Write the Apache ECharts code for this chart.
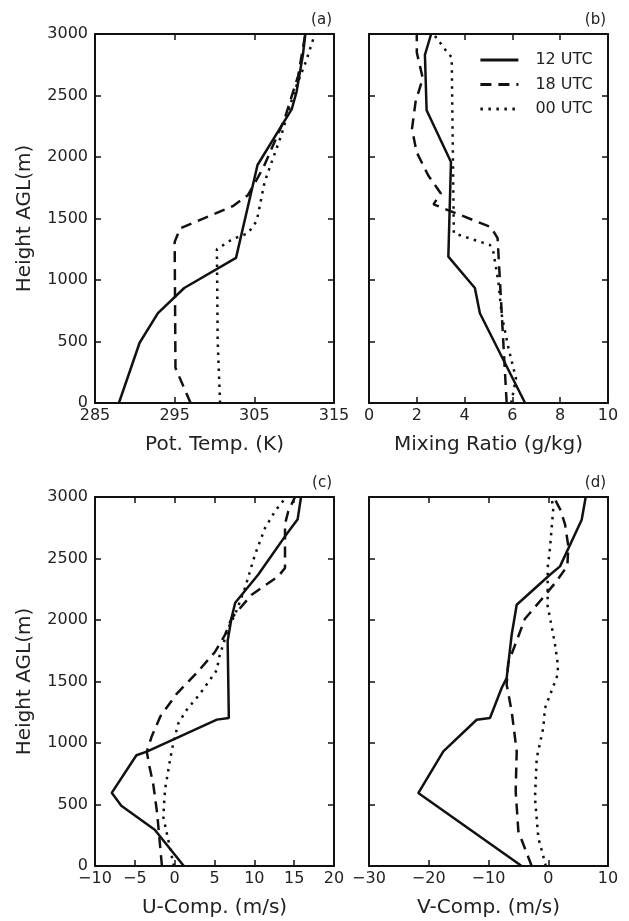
<!DOCTYPE html>
<html>
<head>
<meta charset="utf-8">
<script src="https://cdn.jsdelivr.net/npm/echarts@6/dist/echarts.min.js"></script>
<style>
  html, body { margin: 0; padding: 0; background: #fff; }
  #chart { width: 629px; height: 921px; }
</style>
</head>
<body>
<div id="chart"></div>
<script>
// series names
const times = ['12 UTC', '18 UTC', '00 UTC'];

// tick values
const heightTicks = [0, 500, 1000, 1500, 2000, 2500, 3000];
const tempTicks = [285, 295, 305, 315];
const mixTicks = [0, 2, 4, 6, 8, 10];
const uTicks = [-10, -5, 0, 5, 10, 15, 20];
const vTicks = [-30, -20, -10, 0, 10];

// (a) potential temperature (K)
const thetaH12 = [0, 490, 730, 935, 1180, 1935, 2390, 2530, 2830, 3000];
const theta12 = [288.0, 290.6, 292.9, 296.2, 302.7, 305.4, 309.7, 310.3, 311.1, 311.4];
const thetaH18 = [0, 285, 1310, 1420, 1600, 1690, 1910, 2310, 2660, 3000];
const theta18 = [297.0, 295.1, 295.0, 295.7, 302.3, 304.2, 306.1, 308.8, 310.5, 311.4];
const thetaH00 = [0, 500, 1250, 1330, 1380, 1480, 1800, 2180, 2530, 2780, 3000];
const theta00 = [300.7, 300.4, 300.3, 302.2, 304.2, 305.3, 306.3, 308.4, 310.0, 311.5, 312.6];

// (b) mixing ratio (g/kg)
const mixH12 = [0, 730, 935, 1190, 1960, 2380, 2830, 3000];
const mix12 = [6.53, 4.64, 4.43, 3.32, 3.43, 2.41, 2.34, 2.6];
const mixH18 = [0, 1340, 1430, 1615, 1705, 1850, 2040, 2230, 2450, 2640, 2850, 3000];
const mix18 = [5.76, 5.38, 5.1, 2.7, 3.0, 2.48, 1.99, 1.8, 1.95, 2.25, 2.0, 2.0];
const mixH00 = [0, 200, 450, 720, 990, 1230, 1285, 1380, 2810, 2870, 3000];
const mix00 = [5.95, 6.15, 5.83, 5.55, 5.41, 5.2, 5.06, 3.55, 3.46, 3.2, 2.7];

// (c) u component (m/s)
const uH12 = [0, 295, 490, 595, 900, 930, 1190, 1203, 1830, 2020, 2140, 2370, 2680, 2820, 3000];
const u12 = [1.15, -2.5, -6.7, -7.9, -4.8, -3.5, 5.3, 6.8, 6.65, 7.15, 7.6, 10.5, 13.85, 15.44, 15.86];
const uH18 = [0, 430, 670, 820, 930, 1050, 1215, 1270, 1400, 1570, 1740, 1880, 2016, 2206, 2355, 2423, 2780, 2884, 3000];
const u18 = [-1.6, -2.2, -2.7, -3.2, -3.5, -2.9, -1.8, -1.2, 0.25, 2.77, 5.06, 6.32, 7.15, 9.67, 13.0, 13.85, 13.85, 14.26, 15.1];
const uH00 = [0, 400, 620, 860, 1000, 1160, 1270, 1400, 1590, 1700, 1935, 2043, 2260, 2531, 2748, 2884, 3000];
const u00 = [-0.1, -1.43, -1.21, -0.59, -0.17, 0.46, 1.51, 3.18, 5.27, 5.6, 6.73, 7.57, 8.83, 10.08, 11.34, 12.6, 14.0];

// (d) v component (m/s)
const vH12 = [0, 593, 932, 1189, 1203, 1447, 1528, 1880, 2124, 2368, 2436, 2815, 3000];
const v12 = [-4.45, -21.75, -17.56, -11.98, -9.75, -7.8, -6.96, -6.12, -5.28, 0.29, 1.97, 5.6, 6.27];
const vH18 = [0, 282, 607, 932, 1258, 1474, 1650, 2010, 2180, 2316, 2440, 2600, 2780, 2900, 3000];
const v18 = [-2.77, -5.0, -5.45, -5.28, -6.12, -6.96, -6.7, -3.9, -0.9, 1.4, 3.2, 3.36, 2.8, 2.0, 0.9];
const vH00 = [0, 228, 553, 878, 1122, 1285, 1461, 1560, 1641, 1803, 1949, 2112, 2260, 2423, 2585, 2748, 2911, 3000];
const v00 = [-0.4, -1.66, -2.22, -1.93, -0.83, -0.54, 0.85, 1.6, 1.6, 1.13, 0.57, -0.1, -0.1, -0.1, 0.29, 0.57, 0.85, 0.5];

const pair = (h, v) => v.map((x, i) => [x, h[i]]);

const FONT = 'DejaVu Sans';
const INK = '#111';
const TXT = '#222';
const minus = v => String(v).replace('-', '\u2212');

const panels = [
  { left: 95, top: 34, xmin: 285, xmax: 315, ticks: tempTicks, name: 'Pot. Temp. (K)', ylab: true, tag: '(a)',
    data: [pair(thetaH12, theta12), pair(thetaH18, theta18), pair(thetaH00, theta00)] },
  { left: 369, top: 34, xmin: 0, xmax: 10, ticks: mixTicks, name: 'Mixing Ratio (g/kg)', ylab: false, tag: '(b)',
    data: [pair(mixH12, mix12), pair(mixH18, mix18), pair(mixH00, mix00)] },
  { left: 95, top: 497, xmin: -10, xmax: 20, ticks: uTicks, name: 'U-Comp. (m/s)', ylab: true, tag: '(c)',
    data: [pair(uH12, u12), pair(uH18, u18), pair(uH00, u00)] },
  { left: 369, top: 497, xmin: -30, xmax: 10, ticks: vTicks, name: 'V-Comp. (m/s)', ylab: false, tag: '(d)',
    data: [pair(vH12, v12), pair(vH18, v18), pair(vH00, v00)] }
];
const W = 239, H = 369;
const dashes = ['solid', [11, 7], [2.5, 5.5]];

const grid = [], xAxis = [], yAxis = [], series = [], graphic = [];
const tick = { show: true, inside: true, length: 6, lineStyle: { color: INK, width: 1.5 } };
const line = { show: true, onZero: false, lineStyle: { color: INK, width: 2 } };

panels.forEach((p, i) => {
  grid.push({ left: p.left, top: p.top, width: W, height: H });
  // bottom and top x axes
  xAxis.push({
    type: 'value', gridIndex: i, position: 'bottom', min: p.xmin, max: p.xmax,
    axisLine: line, axisTick: Object.assign({ customValues: p.ticks }, tick), splitLine: { show: false },
    axisLabel: { customValues: p.ticks, formatter: minus, margin: 5, color: TXT, fontFamily: FONT, fontSize: 16 },
    name: p.name, nameLocation: 'middle', nameGap: 32,
    nameTextStyle: { color: TXT, fontFamily: FONT, fontSize: 20 }
  });
  xAxis.push({
    type: 'value', gridIndex: i, position: 'top', min: p.xmin, max: p.xmax,
    axisLine: line, axisTick: Object.assign({ customValues: p.ticks }, tick), splitLine: { show: false },
    axisLabel: { show: false }
  });
  // left and right y axes
  yAxis.push({
    type: 'value', gridIndex: i, position: 'left', min: 0, max: 3000,
    axisLine: line, axisTick: Object.assign({ customValues: heightTicks }, tick), splitLine: { show: false },
    axisLabel: { show: p.ylab, customValues: heightTicks, formatter: v => String(v), margin: 7,
      color: TXT, fontFamily: FONT, fontSize: 16 },
    name: p.ylab ? 'Height AGL(m)' : '', nameLocation: 'middle', nameGap: 60,
    nameTextStyle: { color: TXT, fontFamily: FONT, fontSize: 20 }
  });
  yAxis.push({
    type: 'value', gridIndex: i, position: 'right', min: 0, max: 3000,
    axisLine: line, axisTick: Object.assign({ customValues: heightTicks }, tick), splitLine: { show: false },
    axisLabel: { show: false }
  });
  p.data.forEach((d, k) => {
    series.push({
      name: times[k], type: 'line', xAxisIndex: i * 2, yAxisIndex: i * 2,
      data: d, symbol: 'none', silent: true,
      itemStyle: { color: INK },
      lineStyle: { color: INK, width: 2.5, type: dashes[k] }
    });
  });
  graphic.push({
    type: 'text', x: p.left + W - 2, y: p.top - 14,
    style: { text: p.tag, align: 'right', verticalAlign: 'middle', fill: TXT, font: '15px "DejaVu Sans"' }
  });
});

const chart = echarts.init(document.getElementById('chart'), null, { renderer: 'canvas' });
chart.setOption({
  animation: false,
  backgroundColor: '#fff',
  textStyle: { fontFamily: FONT },
  grid, xAxis, yAxis, series, graphic,
  legend: {
    data: times, orient: 'vertical', left: 474, top: 47,
    itemWidth: 38, itemHeight: 16, itemGap: 8.5,
    itemStyle: { color: 'rgba(0,0,0,0)', borderWidth: 0, opacity: 0 },
    lineStyle: { color: INK, width: 2.8 },
    textStyle: { color: TXT, fontFamily: FONT, fontSize: 16, padding: [0, 0, 0, 12] }
  }
});
</script>
</body>
</html>
